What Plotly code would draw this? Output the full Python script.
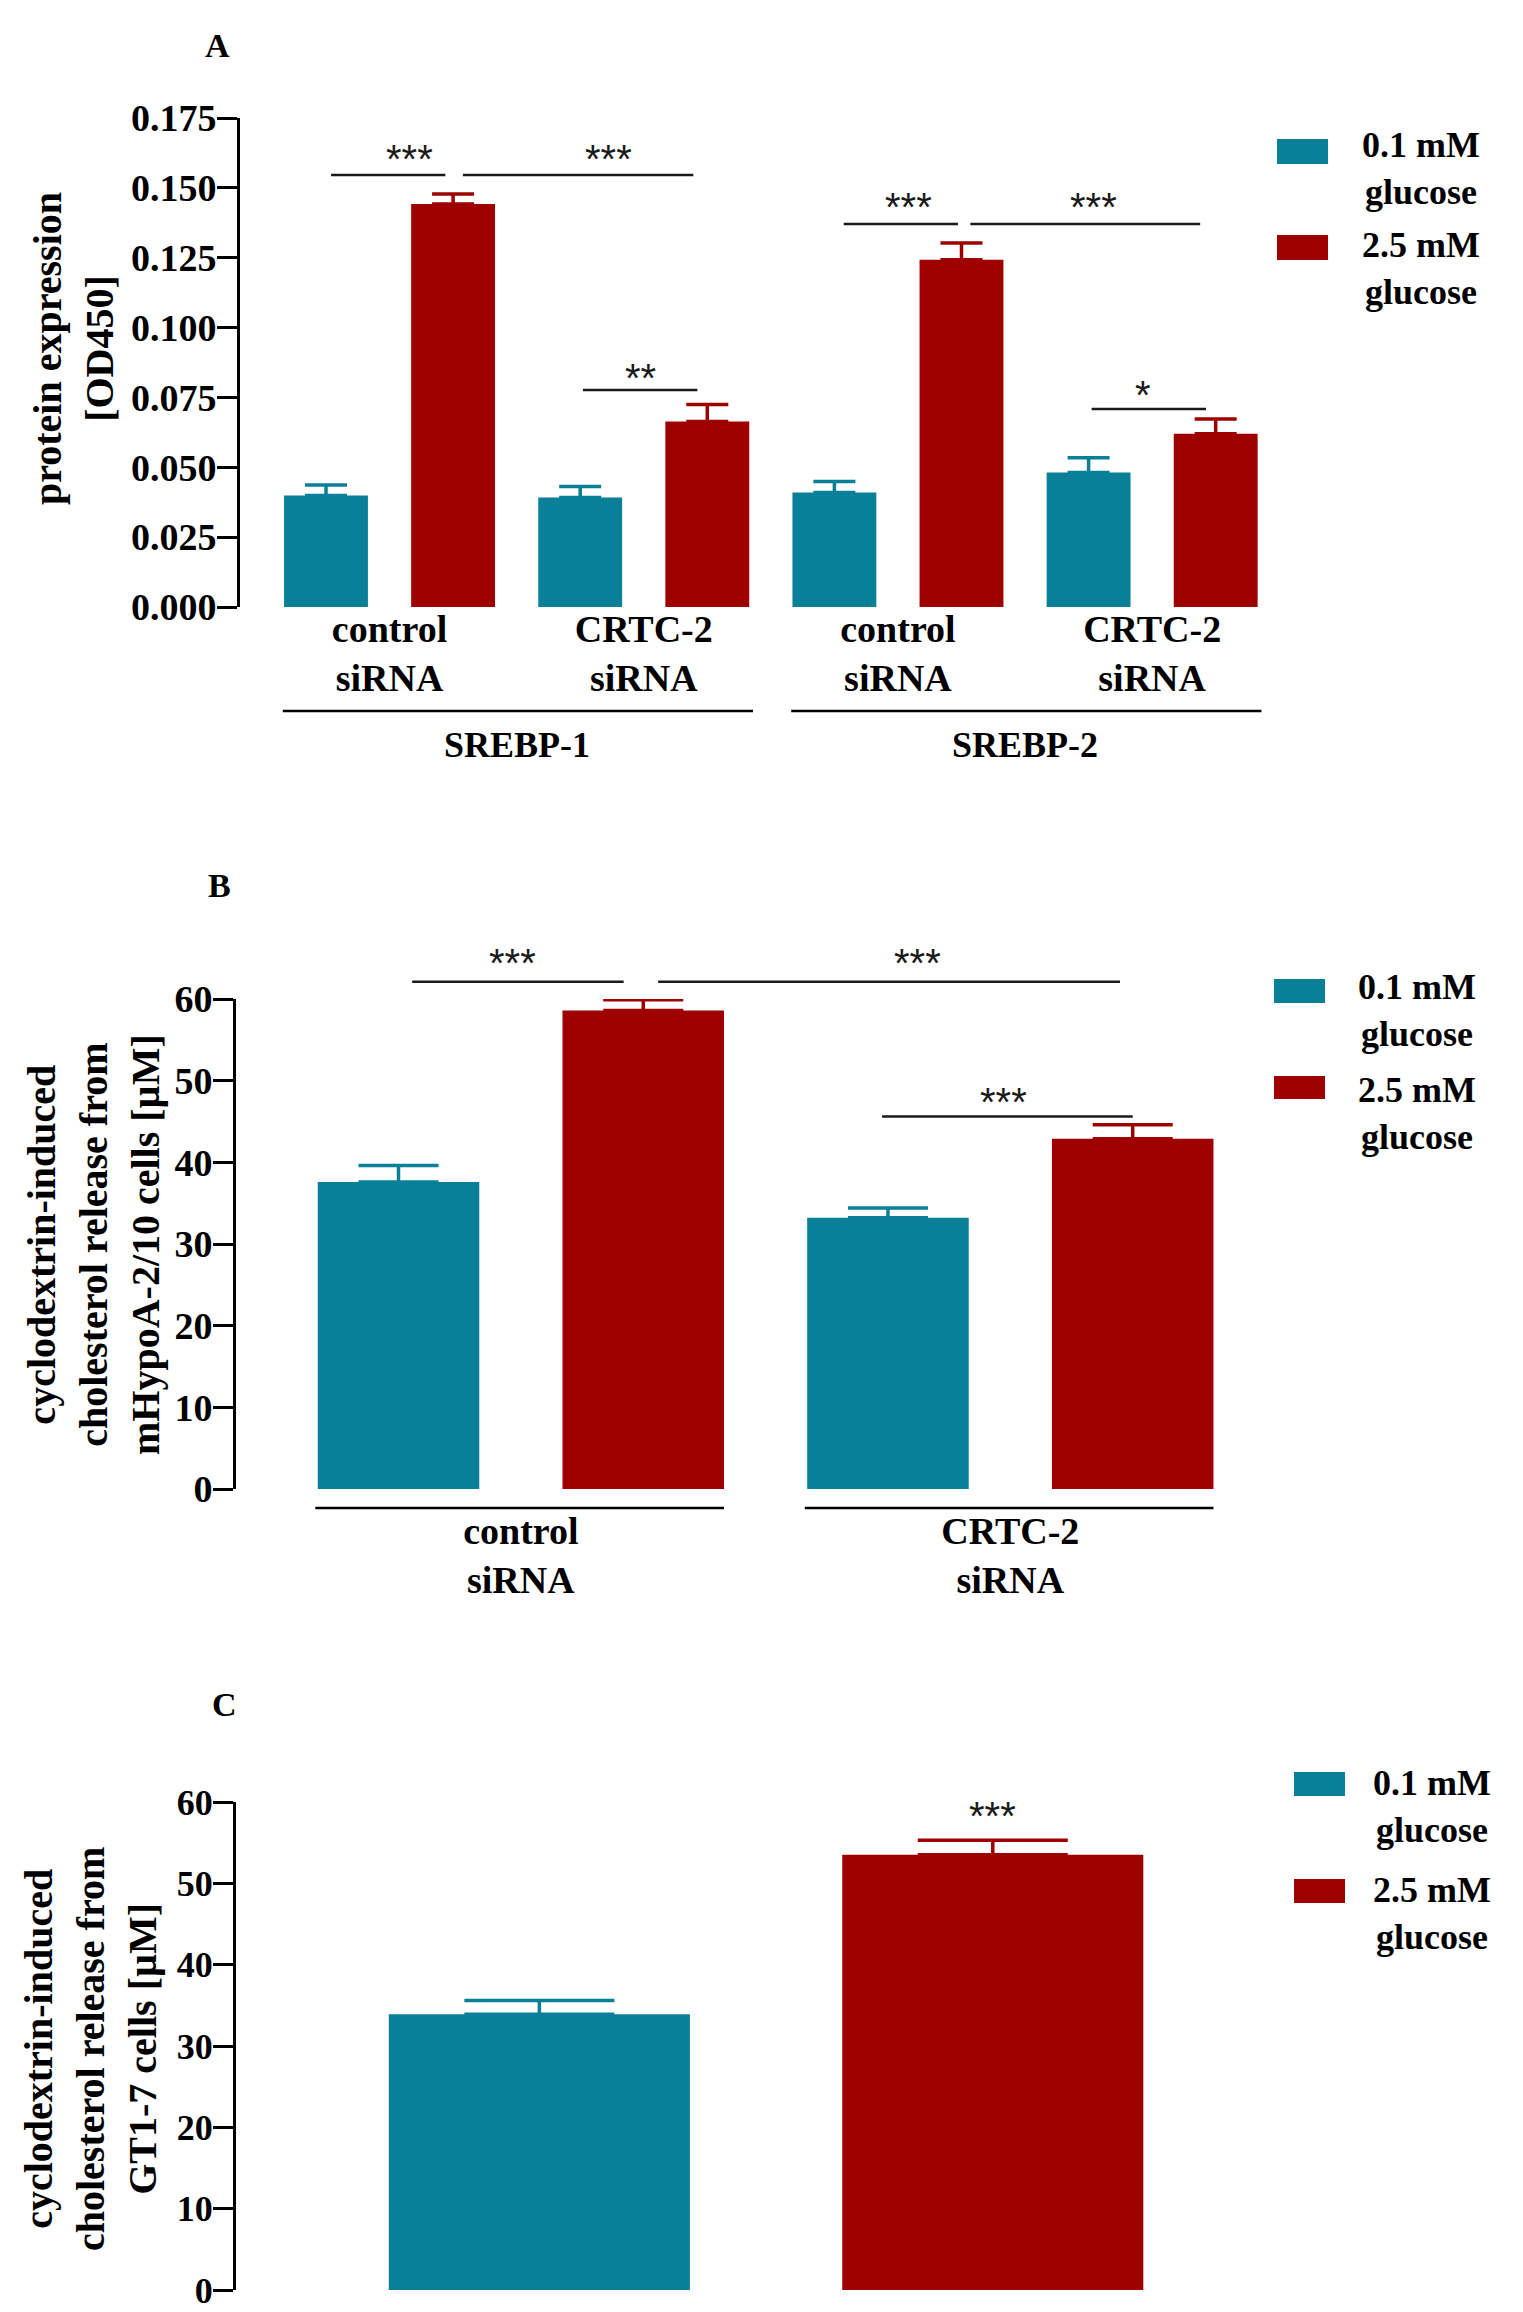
import plotly.graph_objects as go

W, H = 1523, 2312
TEAL = "#0a7f98"
RED = "#9e0000"
SERIF = "Liberation Serif"
SANS = "Liberation Sans"

# ---------------- data ----------------
sirna_labels = ["control<br>siRNA", "CRTC-2<br>siRNA"]
srebp_labels = ["SREBP-1", "SREBP-2"]
glucose_labels = ["0.1 mM<br>glucose", "2.5 mM<br>glucose"]

# Panel A (order: SREBP-1 control, SREBP-1 CRTC-2, SREBP-2 control, SREBP-2 CRTC-2)
a_low = [0.0399, 0.0392, 0.0410, 0.0481]
a_low_sem = [0.0038, 0.0039, 0.0039, 0.0053]
a_high = [0.1442, 0.0664, 0.1243, 0.0620]
a_high_sem = [0.0036, 0.0061, 0.0060, 0.0053]

# Panel B (control siRNA, CRTC-2 siRNA)
b_low = [37.6, 33.2]
b_low_sem = [2.0, 1.2]
b_high = [58.6, 42.9]
b_high_sem = [1.3, 1.7]

# Panel C
c_low = [33.9]
c_low_sem = [1.7]
c_high = [53.5]
c_high_sem = [1.8]

a_ticks = [0, 0.025, 0.05, 0.075, 0.1, 0.125, 0.15, 0.175]
bc_ticks = [0, 10, 20, 30, 40, 50, 60]

a_title = "protein expression<br>[OD450]"
b_title = "cyclodextrin-induced<br>cholesterol release from<br>mHypoA-2/10 cells [µM]"
c_title = "cyclodextrin-induced<br>cholesterol release from<br>GT1-7 cells [µM]"


# ---------------- layout helpers (pixels -> paper) ----------------
def fx(p):
    return p / W


def fy(p):
    return 1 - p / H


# bar positions (pairs: 0.1 mM then 2.5 mM)
a_x_low = [2 * i for i in range(len(a_low))]
a_x_high = [x + 1 for x in a_x_low]
b_x_low = [2 * i for i in range(len(b_low))]
b_x_high = [x + 1 for x in b_x_low]
c_x_low = [0]
c_x_high = [1]

fig = go.Figure()


def add_bars(xa, ya, xl, yl, el, xh, yh, eh, width, capw):
    for name, x, y, e, col in [
        (glucose_labels[0], xl, yl, el, TEAL),
        (glucose_labels[1], xh, yh, eh, RED),
    ]:
        fig.add_trace(go.Bar(
            x=x, y=y, width=width, name=name.replace("<br>", " "),
            marker=dict(color=col, line=dict(width=0)),
            error_y=dict(type="data", array=e, arrayminus=[0] * len(e),
                         symmetric=False, color=col, thickness=3.5, width=capw),
            xaxis=xa, yaxis=ya, showlegend=False,
        ))


add_bars("x", "y", a_x_low, a_low, a_low_sem, a_x_high, a_high, a_high_sem, 0.66, 21)
add_bars("x2", "y2", b_x_low, b_low, b_low_sem, b_x_high, b_high, b_high_sem, 0.66, 40)
add_bars("x3", "y3", c_x_low, c_low, c_low_sem, c_x_high, c_high, c_high_sem, 0.664, 75)


def yax(px_top, px_bot, rng, ticks, fmt, tsize, anchor):
    return dict(
        domain=[fy(px_bot), fy(px_top)], range=rng, tickvals=ticks, tickformat=fmt,
        showline=True, linewidth=3, linecolor="black", ticks="outside", ticklen=20,
        tickwidth=3, tickcolor="black", showgrid=False, zeroline=False,
        automargin=False, fixedrange=True, ticklabeloverflow="allow",
        ticklabelstandoff=-7,
        tickfont=dict(family=SERIF, size=tsize, color="black", weight="bold"),
        anchor=anchor,
    )


def xax(px_l, px_r, rng, tickvals, ticktext, size, standoff, anchor):
    return dict(
        domain=[fx(px_l), fx(px_r)], range=rng, showline=False, showgrid=False,
        zeroline=False, ticks="", tickvals=tickvals, ticktext=ticktext,
        showticklabels=bool(ticktext), ticklabelstandoff=standoff, automargin=False,
        fixedrange=True, ticklabeloverflow="allow",
        tickfont=dict(family=SERIF, size=size, color="black", weight="bold"),
        anchor=anchor,
    )


A_YMAX, B_YMAX, C_YMAX = 0.175, 60, 60

a_tickpos = [(a_x_low[i] + a_x_high[i]) / 2 for i in range(len(a_low))]
b_tickpos = [(b_x_low[i] + b_x_high[i]) / 2 for i in range(len(b_low))]

fig.update_layout(
    template="none",
    width=W, height=H, margin=dict(l=0, r=0, t=0, b=0, pad=0), autosize=False,
    paper_bgcolor="white", plot_bgcolor="white", barmode="overlay", showlegend=False,
    xaxis=xax(240, 1280, [-0.6766, 7.506], a_tickpos, sirna_labels * 2, 38, -4, "y"),
    yaxis=yax(118, 607, [0, A_YMAX], a_ticks, ".3f", 38, "x"),
    xaxis2=xax(236, 1270, [-0.664, 3.561], b_tickpos, sirna_labels, 38, 16, "y2"),
    yaxis2=yax(999, 1489, [0, B_YMAX], bc_ticks, "d", 38, "x2"),
    xaxis3=xax(236, 1200, [-0.669, 1.457], [], [], 32, 0, "y3"),
    yaxis3=yax(1802, 2290, [0, C_YMAX], bc_ticks, "d", 36, "x3"),
)

shapes = []
annotations = []

# significance brackets: (text, x0, x1, y_line, x_text, y_text)
sig = {
    ("x", "y domain", A_YMAX): [
        ("***", 0.04, 0.939, 0.1546, 0.659, 0.1628),
        ("***", 1.077, 2.89, 0.1546, 2.224, 0.1628),
        ("**", 2.022, 2.922, 0.0777, 2.473, 0.0845),
        ("***", 4.073, 4.972, 0.1371, 4.585, 0.1457),
        ("***", 5.070, 6.878, 0.1371, 6.041, 0.1457),
        ("*", 6.024, 6.924, 0.0709, 6.428, 0.0784),
    ],
    ("x2", "y2 domain", B_YMAX): [
        ("***", 0.056, 0.920, 62.1, 0.467, 65.3),
        ("***", 1.061, 2.948, 62.1, 2.122, 65.3),
        ("***", 1.976, 3.0, 45.6, 2.474, 48.2),
    ],
    ("x3", "y3 domain", C_YMAX): [
        ("***", None, None, None, 1.0, 59.1),
    ],
}
for (xr, yr, ymax), items in sig.items():
    for txt, x0, x1, yl, xt, yt in items:
        if x0 is not None:
            shapes.append(dict(type="line", xref=xr, yref=yr, x0=x0, x1=x1,
                               y0=yl / ymax, y1=yl / ymax,
                               line=dict(color="#1a1a1a", width=2.5)))
        annotations.append(dict(text=txt, xref=xr, yref=yr, x=xt, y=yt / ymax,
                                showarrow=False, xanchor="center", yanchor="middle",
                                yshift=-7, font=dict(family=SANS, size=40, color="#1a1a1a")))

# group lines + titles in panel A
for g in range(2):
    x0 = a_x_low[2 * g] - 0.34
    x1 = a_x_high[2 * g + 1] + 0.36
    shapes.append(dict(type="line", xref="x", yref="y domain", x0=x0, x1=x1,
                       y0=-0.2127, y1=-0.2127, line=dict(color="black", width=2.5)))
    annotations.append(dict(text=srebp_labels[g], xref="x", yref="y domain",
                            x=(a_x_low[2 * g] + a_x_high[2 * g + 1]) / 2, y=-0.282,
                            showarrow=False, xanchor="center", yanchor="middle",
                            font=dict(family=SERIF, size=36, color="black", weight="bold")))

# group lines in panel B
for s in range(2):
    x0 = b_x_low[s] - 0.34
    x1 = b_x_high[s] + 0.33
    shapes.append(dict(type="line", xref="x2", yref="y2 domain", x0=x0, x1=x1,
                       y0=-0.0388, y1=-0.0388, line=dict(color="black", width=2.5)))

# y-axis titles (rotated): (text, center x px, center y px, size)
for txt, cx, cy, fs in [(a_title, 73, 349, 40), (b_title, 93, 1245, 40),
                        (c_title, 90, 2049, 40)]:
    annotations.append(dict(text=txt, xref="paper", yref="paper", x=fx(cx), y=fy(cy),
                            textangle=-90, xanchor="center", yanchor="middle",
                            align="center", showarrow=False,
                            font=dict(family=SERIF, size=fs, color="black", weight="bold")))

# legends (px geometry): square x0,x1, teal y0,y1, red y0,y1, text x, teal text y, red text y
legends = [
    (1277, 1328, 139, 164, 235, 260, 1360, 169, 269),
    (1274, 1325, 979, 1003, 1076, 1099, 1356, 1010, 1113),
    (1294, 1345, 1772, 1796, 1879, 1903, 1371, 1806, 1913),
]
for sx0, sx1, t0, t1, r0, r1, tx, tty, rty in legends:
    for col, y0, y1, lab, ty in [(TEAL, t0, t1, glucose_labels[0], tty),
                                 (RED, r0, r1, glucose_labels[1], rty)]:
        shapes.append(dict(type="rect", xref="paper", yref="paper",
                           x0=fx(sx0), x1=fx(sx1), y0=fy(y1), y1=fy(y0),
                           fillcolor=col, line=dict(width=0)))
        annotations.append(dict(text=lab, xref="paper", yref="paper", x=fx(tx), y=fy(ty),
                                xanchor="left", yanchor="middle", align="center",
                                showarrow=False,
                                font=dict(family=SERIF, size=36, color="black", weight="bold")))

# panel letters
for lab, px, py in [("A", 217, 45), ("B", 219, 886), ("C", 224, 1705)]:
    annotations.append(dict(text=lab, xref="paper", yref="paper", x=fx(px), y=fy(py),
                            xanchor="center", yanchor="middle", showarrow=False,
                            font=dict(family=SERIF, size=34, color="black", weight="bold")))

fig.update_layout(shapes=shapes, annotations=annotations)
fig.write_html("out.html")
